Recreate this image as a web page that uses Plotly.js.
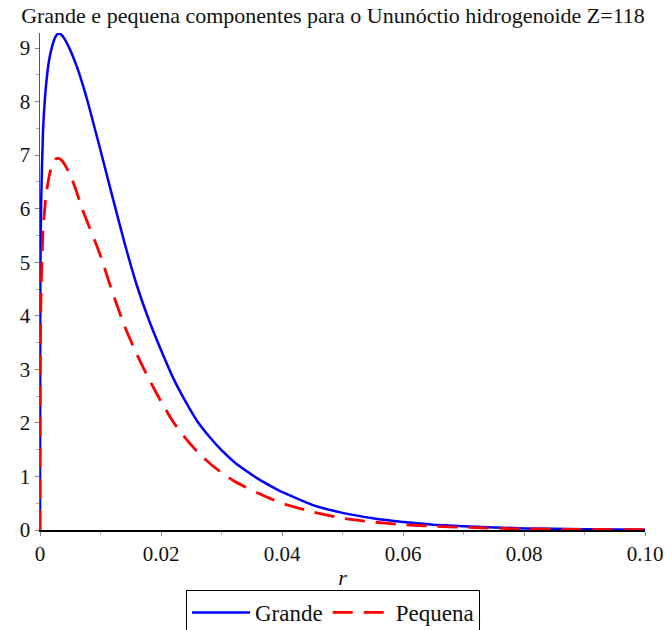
<!DOCTYPE html>
<html>
<head>
<meta charset="utf-8">
<script src="https://cdn.plot.ly/plotly-3.0.1.min.js"></script>
<style>html,body{margin:0;padding:0;background:#fff;}#chart{width:666px;height:630px;}</style>
</head>
<body>
<div id="chart"></div>
<script>
// radius values r
const rValues = [0, 0.00005, 0.0001, 0.0002, 0.0005, 0.001, 0.0015, 0.002, 0.0025, 0.003, 0.0035, 0.004, 0.005, 0.006, 0.007, 0.008, 0.009, 0.010, 0.012, 0.014, 0.016, 0.018, 0.020, 0.022, 0.024, 0.026, 0.028, 0.030, 0.032, 0.034, 0.036, 0.038, 0.040, 0.045, 0.050, 0.055, 0.060, 0.065, 0.070, 0.080, 0.090, 0.100];
// large component (Grande)
const grande = [0, 4.48, 5.3, 6.15, 7.46, 8.3, 8.77, 9.03, 9.2, 9.27, 9.25, 9.18, 8.96, 8.68, 8.34, 7.95, 7.52, 7.09, 6.21, 5.35, 4.57, 3.92, 3.36, 2.84, 2.41, 2.03, 1.74, 1.49, 1.28, 1.11, 0.96, 0.83, 0.71, 0.47, 0.32, 0.22, 0.15, 0.10, 0.07, 0.03, 0.015, 0.007];
// small component (Pequena)
const pequena = [0, 3.3, 3.9, 4.55, 5.6, 6.25, 6.6, 6.83, 6.92, 6.94, 6.91, 6.84, 6.63, 6.33, 5.99, 5.70, 5.42, 5.12, 4.43, 3.80, 3.28, 2.82, 2.40, 2.02, 1.72, 1.46, 1.25, 1.07, 0.92, 0.80, 0.69, 0.59, 0.50, 0.34, 0.22, 0.15, 0.10, 0.07, 0.05, 0.02, 0.01, 0.005];
const seriesNames = ["Grande", "Pequena"];
const xTickVals = [0, 0.02, 0.04, 0.06, 0.08, 0.10];
const xTickText = ["0", "0.02", "0.04", "0.06", "0.08", "0.10"];
const yTickVals = [0, 1, 2, 3, 4, 5, 6, 7, 8, 9];
const titleText = "Grande e pequena componentes para o Ununóctio hidrogenoide Z=118";

const font = "Liberation Serif";

const traces = [
  {x: rValues, y: grande, name: seriesNames[0], mode: "lines", type: "scatter",
   line: {color: "#0000ff", width: 2.5, shape: "spline", smoothing: 0.5}},
  {x: rValues, y: pequena, name: seriesNames[1], mode: "lines", type: "scatter",
   line: {color: "#ff0000", width: 2.8, dash: "20px,11px", shape: "spline", smoothing: 0.5}}
];

const layout = {
  width: 666, height: 630,
  margin: {l: 40, r: 21, t: 33, b: 100},
  paper_bgcolor: "#fff", plot_bgcolor: "#fff",
  font: {family: font, size: 20, color: "#111"},
  title: {text: titleText, font: {family: font, size: 22, color: "#111"},
          x: 0.5, xref: "container", xanchor: "center", y: 1 - 15/630, yref: "container", yanchor: "middle"},
  xaxis: {range: [0, 0.1], tickvals: xTickVals, ticktext: xTickText,
          showgrid: false, zeroline: false, showline: true, linecolor: "#000", linewidth: 1.5,
          ticks: "outside", ticklen: 4, tickcolor: "#888", tickwidth: 1,
          minor: {dtick: 0.01, ticks: "outside", ticklen: 3, tickcolor: "#aaa", showgrid: false},
          tickfont: {family: font, size: 21, color: "#111"},
          title: {text: "<i>r</i>", font: {family: font, size: 22, color: "#111"}, standoff: 8}},
  yaxis: {range: [0, 9.28], tickvals: yTickVals,
          showgrid: false, zeroline: false, showline: true, linecolor: "#555", linewidth: 1.5,
          ticks: "outside", ticklen: 4, tickcolor: "#888", tickwidth: 1,
          minor: {dtick: 0.5, ticks: "outside", ticklen: 3, tickcolor: "#aaa", showgrid: false},
          tickfont: {family: font, size: 21, color: "#111"}},
  showlegend: true,
  legend: {orientation: "h", x: 0.5, xref: "container", xanchor: "center",
           y: 1 - 590/630, yref: "container", yanchor: "top",
           bordercolor: "#000", borderwidth: 1, bgcolor: "#fff",
           font: {family: font, size: 23, color: "#111"}, itemwidth: 58,
           tracegroupgap: 0}
};

Plotly.newPlot("chart", traces, layout, {displayModeBar: false, staticPlot: true});
</script>
</body>
</html>
